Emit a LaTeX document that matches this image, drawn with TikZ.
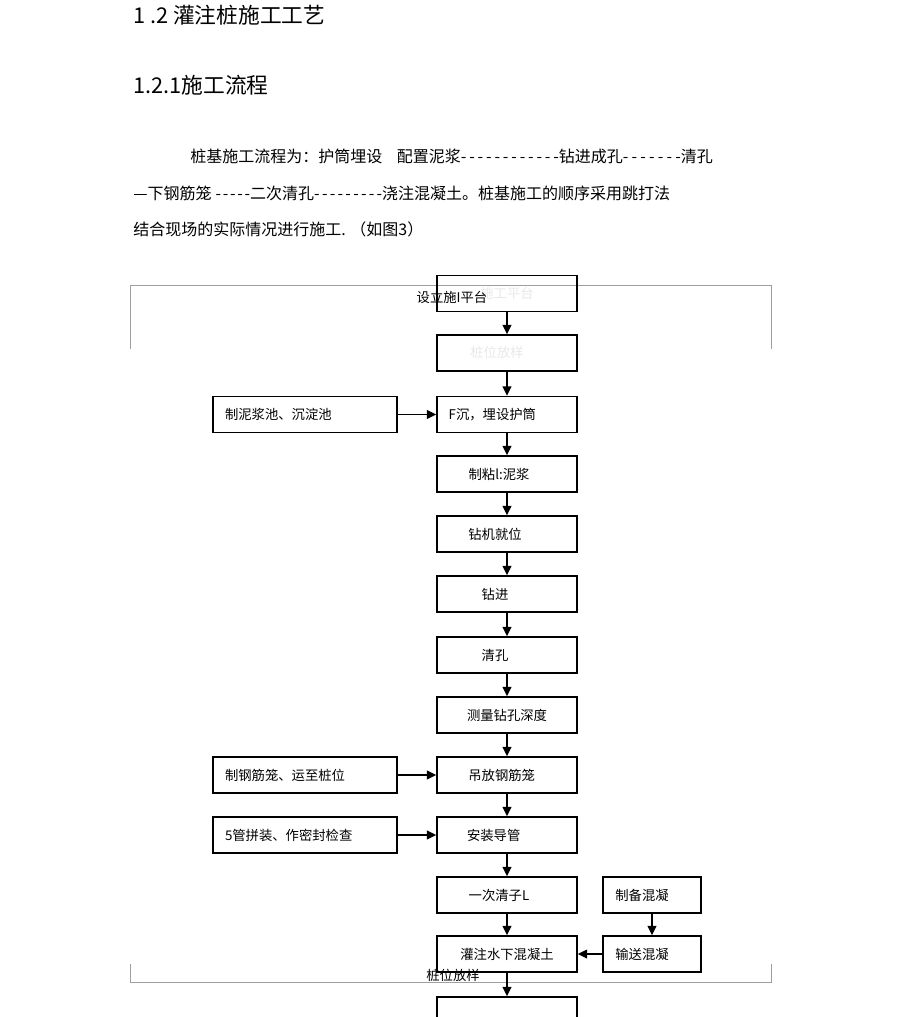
\documentclass[tikz,border=0pt]{standalone}
\usepackage{fontspec}
\newfontfamily\cjk{Noto Sans CJK SC}
\usetikzlibrary{arrows.meta}

\newcommand\dashrun[2]{\makebox[#1]{#2}}

\tikzset{
  stage/.style={draw, line width=1.1pt, minimum width=105pt, minimum height=27pt, inner sep=0pt,
    font=\cjk\fontsize{10}{12}\selectfont},
  prep/.style={stage, minimum width=138pt, text width=120pt, align=left},
  supply/.style={stage, minimum width=73.5pt},
  ghost/.style={text=gray!18, font=\cjk\fontsize{10}{12}\selectfont},
  tag/.style={inner sep=0pt, font=\cjk\fontsize{10}{12}\selectfont},
  flow/.style={line width=1.1pt, -{Triangle[length=7pt,width=6.5pt]}},
  frame/.style={gray!75, line width=0.6pt},
  body/.style={anchor=west, inner sep=0pt, font=\cjk\fontsize{12}{14}\selectfont},
  heading/.style={anchor=west, inner sep=0pt, font=\cjk\fontsize{16.3}{20}\selectfont}
}

\begin{document}
\begin{tikzpicture}[x=0.75pt, y=-0.75pt]
  \useasboundingbox (0,0) rectangle (920,1017);

  \node[heading] (title) at (133,15) {1 .2 灌注桩施工工艺};
  \node[heading] (sub) at (133,85) {1.2.1施工流程};
  \node[body] (line1) at (190,156) {桩基施工流程为：护筒埋设\hspace{11pt}配置泥浆\dashrun{73.5pt}{-\hfill-\hfill-\hfill-\hfill-\hfill-\hfill-\hfill-\hfill-\hfill-\hfill-\hfill-}钻进成孔\dashrun{43.5pt}{-\hfill-\hfill-\hfill-\hfill-\hfill-\hfill-}清孔};
  \node[body] (line2) at (133,193) {—下钢筋笼\hspace{3pt}\dashrun{26pt}{-\hfill-\hfill-\hfill-\hfill-}二次清孔\dashrun{51pt}{-\hfill-\hfill-\hfill-\hfill-\hfill-\hfill-\hfill-\hfill-}浇注混凝土。桩基施工的顺序采用跳打法};
  \node[body] (line3) at (133,229) {结合现场的实际情况进行施工. （如图3）};

  \coordinate (fa) at (130,349);
  \coordinate (fb) at (130,285);
  \coordinate (fc) at (771,285);
  \coordinate (fd) at (771,349);
  \coordinate (fe) at (130,964);
  \coordinate (ff) at (130,982);
  \coordinate (fg) at (771,982);
  \coordinate (fh) at (771,964);
  \draw[frame] (fa) -- (fb) -- (fc) -- (fd);
  \draw[frame] (fe) -- (ff) -- (fg) -- (fh);

  \node[stage] (s1) at (507,293.5) {};
  \node[stage] (s2) at (507,353) {};
  \node[stage] (s3) at (507,414.5) {F沉，埋设护筒\hspace*{22pt}};
  \node[stage] (s4) at (507,474) {制粘l:泥浆\hspace*{12pt}};
  \node[stage] (s5) at (507,534) {钻机就位\hspace*{18pt}};
  \node[stage] (s6) at (507,594) {钻进\hspace*{18pt}};
  \node[stage] (s7) at (507,655) {清孔\hspace*{18pt}};
  \node[stage] (s8) at (507,715) {测量钻孔深度};
  \node[stage] (s9) at (507,775) {吊放钢筋笼\hspace*{8pt}};
  \node[stage] (s10) at (507,835) {安装导管\hspace*{20pt}};
  \node[stage] (s11) at (507,895) {一次清子L\hspace*{12pt}};
  \node[stage] (s12) at (507,954) {灌注水下混凝土};
  \node[stage] (s13) at (507,1015) {};

  \node[ghost] (g1) at (507,293) {施工平台};
  \node[ghost] (g2) at (497,352) {桩位放样};
  \node[tag] (lab1) at (452,297) {设立施I平台};
  \node[tag] (lab2) at (453,975) {桩位放样};

  \node[prep] (p1) at (305,414.5) {制泥浆池、沉淀池};
  \node[prep] (p2) at (305,775) {制钢筋笼、运至桩位};
  \node[prep] (p3) at (305,835) {5管拼装、作密封检查};

  \node[supply] (c1) at (652,895) {制备混凝\hspace*{15pt}};
  \node[supply] (c2) at (652,954) {输送混凝\hspace*{15pt}};

  \draw[flow] (s1) -- (s2);
  \draw[flow] (s2) -- (s3);
  \draw[flow] (s3) -- (s4);
  \draw[flow] (s4) -- (s5);
  \draw[flow] (s5) -- (s6);
  \draw[flow] (s6) -- (s7);
  \draw[flow] (s7) -- (s8);
  \draw[flow] (s8) -- (s9);
  \draw[flow] (s9) -- (s10);
  \draw[flow] (s10) -- (s11);
  \draw[flow] (s11) -- (s12);
  \draw[flow] (s12) -- (s13);

  \draw[flow] (p1) -- (s3);
  \draw[flow] (p2) -- (s9);
  \draw[flow] (p3) -- (s10);
  \draw[flow] (c1) -- (c2);
  \draw[flow] (c2) -- (s12);
\end{tikzpicture}
\end{document}
